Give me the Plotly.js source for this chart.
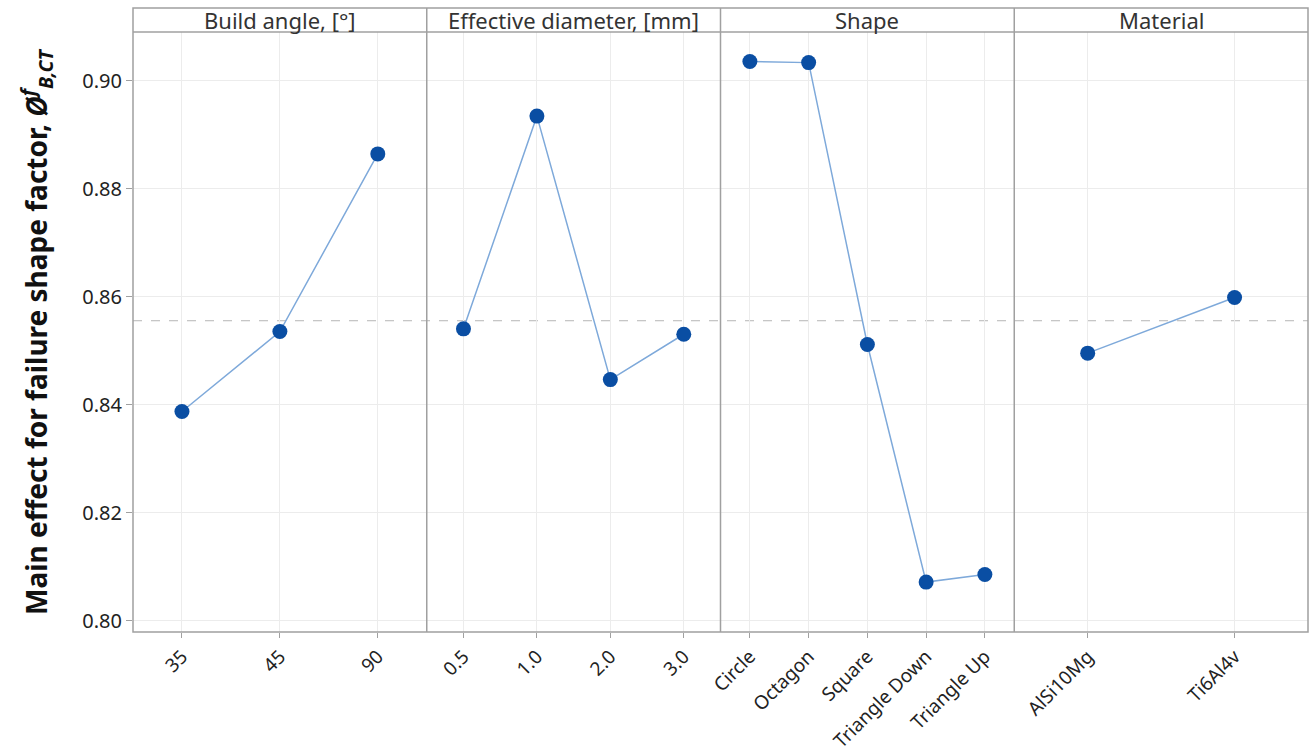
<!DOCTYPE html>
<html>
<head>
<meta charset="utf-8">
<script src="https://cdn.plot.ly/plotly-3.0.1.min.js"></script>
<style>html,body{margin:0;padding:0;background:#fff;}#chart{width:1314px;height:756px;}</style>
</head>
<body>
<div id="chart"></div>
<script>
// Panel headers
const panelTitles = ["Build angle, [°]", "Effective diameter, [mm]", "Shape", "Material"];

// Categories and main-effect means
const buildAngle = ["35", "45", "90"];
const buildAngleMean = [0.8388, 0.8536, 0.8865];

const effDiameter = ["0.5", "1.0", "2.0", "3.0"];
const effDiameterMean = [0.8541, 0.8935, 0.8447, 0.8531];

const shapes = ["Circle", "Octagon", "Square", "Triangle Down", "Triangle Up"];
const shapeMean = [0.9036, 0.9034, 0.8512, 0.8072, 0.8086];

const materials = ["AlSi10Mg", "Ti6Al4v"];
const materialMean = [0.8496, 0.8599];

const grandMean = 0.8556;

const yTicks = [0.80, 0.82, 0.84, 0.86, 0.88, 0.90];
const yTickText = ["0.80", "0.82", "0.84", "0.86", "0.88", "0.90"];

const yTitle = "<b>Main effect for failure shape factor, <i>Ø</i><sup><i>f</i></sup><sub><i>B,CT</i></sub></b>";

const FONT = "Noto Sans, Open Sans, sans-serif";
const lineColor = "#7ea9da";
const markerColor = "#0a4ea3";
const frameColor = "#a0a0a0";

const groups = [
  {x: buildAngle, y: buildAngleMean},
  {x: effDiameter, y: effDiameterMean},
  {x: shapes, y: shapeMean},
  {x: materials, y: materialMean}
];

const traces = groups.map((g, i) => ({
  type: "scatter",
  mode: "lines+markers",
  x: g.x,
  y: g.y,
  xaxis: i === 0 ? "x" : "x" + (i + 1),
  yaxis: "y",
  line: {color: lineColor, width: 1.5},
  marker: {color: markerColor, size: 15},
  showlegend: false,
  hoverinfo: "x+y"
}));

const layout = {
  width: 1314,
  height: 756,
  paper_bgcolor: "#ffffff",
  plot_bgcolor: "#ffffff",
  margin: {l: 133, r: 6, t: 32, b: 124},
  font: {family: FONT, color: "#222222", size: 17},
  yaxis: {
    range: [0.79796, 0.90907],
    tickvals: yTicks,
    ticktext: yTickText,
    ticks: "outside",
    ticklen: 6,
    tickcolor: frameColor,
    tickfont: {size: 20, family: FONT, color: "#222"},
    showgrid: true,
    gridcolor: "#ececec",
    gridwidth: 1,
    zeroline: false,
    showline: false,
    fixedrange: true
  },
  shapes: [],
  annotations: [{
    xref: "paper", yref: "paper",
    x: (36 - 133) / 1175, y: 0.5,
    xanchor: "center", yanchor: "middle",
    textangle: -90,
    showarrow: false,
    text: yTitle,
    font: {size: 28, family: FONT, color: "#111"}
  }]
};

const domains = [[0, 0.25], [0.25, 0.5], [0.5, 0.75], [0.75, 1]];
const xs = [buildAngle, effDiameter, shapes, materials];
domains.forEach((d, i) => {
  const key = i === 0 ? "xaxis" : "xaxis" + (i + 1);
  layout[key] = {
    domain: d,
    type: "category",
    categoryorder: "array",
    categoryarray: xs[i],
    range: [-0.5, xs[i].length - 0.5],
    anchor: "y",
    tickangle: -45,
    ticks: "outside",
    ticklen: 5,
    tickcolor: frameColor,
    tickfont: {size: 19, family: FONT, color: "#222"},
    showgrid: true,
    gridcolor: "#ececec",
    gridwidth: 1,
    zeroline: false,
    showline: false,
    fixedrange: true
  };
  layout.annotations.push({
    xref: "paper", yref: "paper",
    x: (d[0] + d[1]) / 2, y: 1.02,
    xanchor: "center", yanchor: "middle",
    text: panelTitles[i],
    showarrow: false,
    font: {size: 22, family: FONT, color: "#333"}
  });
});

const hdr = 24 / 600;
// grand mean reference line
layout.shapes.push({type: "line", xref: "paper", yref: "y", x0: 0, x1: 1, y0: grandMean, y1: grandMean,
  line: {color: "#b5b5b5", width: 1, dash: "dash"}, layer: "below"});
// outer frame incl. header strip
layout.shapes.push({type: "rect", xref: "paper", yref: "paper", x0: 0, x1: 1, y0: 0, y1: 1 + hdr,
  line: {color: frameColor, width: 1.5}, fillcolor: "rgba(0,0,0,0)"});
layout.shapes.push({type: "line", xref: "paper", yref: "paper", x0: 0, x1: 1, y0: 1, y1: 1,
  line: {color: frameColor, width: 1.5}});
[0.25, 0.5, 0.75].forEach(p => {
  layout.shapes.push({type: "line", xref: "paper", yref: "paper", x0: p, x1: p, y0: 0, y1: 1 + hdr,
    line: {color: frameColor, width: 1.5}});
});

Plotly.newPlot("chart", traces, layout, {displayModeBar: false, staticPlot: true});
</script>
</body>
</html>
